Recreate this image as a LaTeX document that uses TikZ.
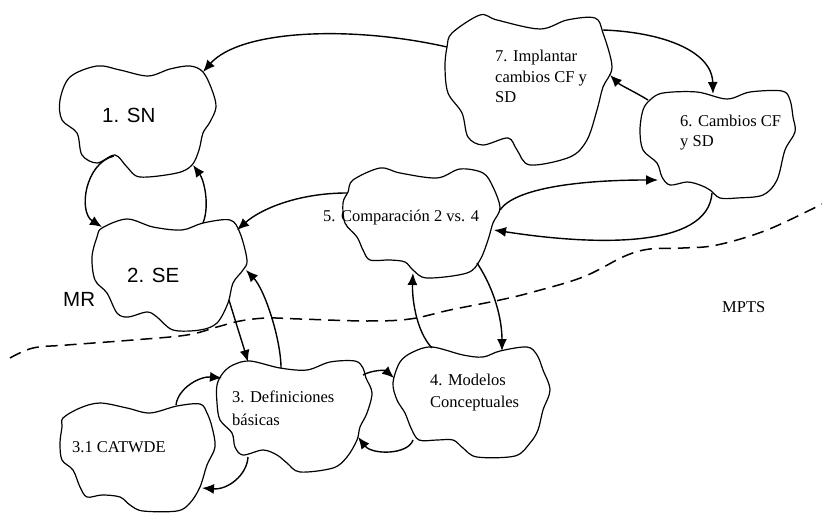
\documentclass[tikz,border=0pt]{standalone}
\usepackage{fontspec}
\setmainfont{Liberation Serif}
\newfontfamily\arialf{Liberation Sans}
\usetikzlibrary{arrows.meta}
\tikzset{
  cloudline/.style={line width=1.2pt, line join=round},
  conn/.style={line width=1.4pt, -{Latex[length=12pt,width=10pt]}},
  dashline/.style={line width=1.5pt, dash pattern=on 12pt off 7pt},
  sertxt/.style={font=\fontsize{16.5}{21}\selectfont, inner sep=0pt, anchor=base west, text=black},
  santxt/.style={font=\arialf\fontsize{20.5}{24}\selectfont, inner sep=0pt, anchor=base west}
}
\begin{document}
\begin{tikzpicture}[x=1pt,y=-1pt]
\useasboundingbox (0,0) rectangle (822,513);
% clouds
\draw[cloudline] plot[smooth cycle, tension=0.55] coordinates {(97,66) (120,70) (148,76) (170,69) (190,66) (203,72) (212,90) (216,107) (210,122) (203,133) (199,150) (192,165) (177,173) (140,177) (127,167) (115,155) (97,163) (82,155) (77,133) (62,120) (60,100) (70,77)};
\draw[cloudline] plot[smooth cycle, tension=0.55] coordinates {(102,228) (127,219) (153,227) (182,230) (203,223) (230,220) (240,233) (247,260) (243,270) (233,283) (228,303) (217,323) (200,330) (173,330) (157,317) (147,312) (128,317) (117,313) (107,293) (95,280) (92,257) (97,237)};
\draw[cloudline] plot[smooth cycle, tension=0.55] coordinates {(353,180) (380,168) (400,173) (437,178) (460,169) (483,173) (493,187) (500,208) (493,223) (488,240) (480,260) (467,273) (427,278) (413,270) (405,262) (390,260) (370,260) (363,250) (357,237) (345,223) (343,203) (348,192)};
\draw[cloudline] plot[smooth cycle, tension=0.55] coordinates {(452,33) (480,15) (497,20) (540,29) (567,20) (595,18) (603,33) (612,67) (603,87) (597,110) (587,140) (570,157) (530,165) (517,150) (508,138) (483,145) (468,137) (462,113) (448,93) (445,67) (447,47)};
\draw[cloudline] plot[smooth cycle, tension=0.55] coordinates {(650,100) (663,93) (697,92) (727,99) (750,92) (782,91) (790,100) (793,117) (795,132) (785,150) (777,180) (763,195) (737,198) (720,198) (710,190) (700,185) (687,182) (670,185) (662,177) (657,163) (643,150) (640,130) (643,110)};
\draw[cloudline] plot[smooth cycle, tension=0.55] coordinates {(400,362) (413,352) (432,347) (463,355) (483,357) (500,351) (527,347) (537,355) (543,370) (550,390) (543,410) (538,430) (530,443) (515,456) (477,457) (463,448) (453,440) (437,440) (419,440) (411,428) (405,413) (397,400) (393,383)};
\draw[cloudline] plot[smooth cycle, tension=0.55] coordinates {(223,373) (233,365) (250,361) (280,368) (307,370) (330,362) (355,361) (363,368) (366,378) (372,393) (367,413) (360,427) (357,440) (347,457) (333,468) (300,472) (287,463) (277,455) (263,450) (243,455) (235,447) (232,433) (220,420) (217,403) (217,385)};
\draw[cloudline] plot[smooth cycle, tension=0.55] coordinates {(63,418) (80,408) (100,403) (127,408) (150,413) (177,406) (200,404) (207,413) (212,427) (215,447) (207,465) (200,487) (190,503) (177,511) (143,511) (130,505) (120,497) (102,495) (87,497) (80,487) (73,470) (62,460) (60,443) (62,427)};
% texts
\node[santxt] (n1) at (102,123) {1. SN};
\node[santxt] (n2) at (127,283) {2. SE};
\node[santxt] (mr) at (63,306) {MR};
\node[sertxt] (n5) at (323,222) {5. Comparación 2 vs. 4};
\node[sertxt] (n7) at (495,62) {\vtop{\baselineskip=20.5pt\hbox{7. Implantar}\hbox{cambios CF y}\hbox{SD}}};
\node[sertxt] (n6) at (680,127) {\vtop{\baselineskip=20pt\hbox{6. Cambios CF}\hbox{y SD}}};
\node[sertxt] (n4) at (430,385) {\vtop{\baselineskip=22pt\hbox{4. Modelos}\hbox{Conceptuales}}};
\node[sertxt] (n3) at (232,402) {\vtop{\baselineskip=23pt\hbox{3. Definiciones}\hbox{básicas}}};
\node[sertxt] (n31) at (72,452) {3.1 CATWDE};
\node[sertxt] (mpts) at (722,312) {MPTS};
% boundary points
\coordinate (c7w) at (447,47);   \coordinate (c1ne) at (203,72);
\coordinate (c7ne) at (603,30);  \coordinate (c6n) at (713,94);
\coordinate (c6nw) at (648,100); \coordinate (c7e) at (610,75);
\coordinate (c5e) at (500,210);  \coordinate (c6sw) at (658,180);
\coordinate (c6s) at (712,193);  \coordinate (c5ee) at (494,230);
\coordinate (c5w) at (347,193);  \coordinate (c2ne) at (237,230);
\coordinate (c1sw) at (114,156); \coordinate (c2nw) at (102,227);
\coordinate (c2n) at (203,223);  \coordinate (c1se) at (193,165);
\coordinate (c2se) at (229,300); \coordinate (c3nw) at (248,362);
\coordinate (c3n) at (281,368);  \coordinate (c2e) at (246,270);
\coordinate (c31n) at (176,405); \coordinate (c3w) at (222,378);
\coordinate (c3s) at (248,457);  \coordinate (c31e) at (202,488);
\coordinate (c3e) at (363,375);  \coordinate (c4w) at (394,378);
\coordinate (c4sw) at (413,440); \coordinate (c3se) at (358,437);
\coordinate (c4nw) at (432,348); \coordinate (c5s) at (413,273);
\coordinate (c5se) at (477,263); \coordinate (c4n) at (502,351);
% connectors
\draw[conn] (c7w) .. controls (350,25) and (240,30) .. (c1ne);
\draw[conn] (c7ne) .. controls (660,32) and (712,50) .. (c6n);
\draw[conn] (c6nw) .. controls (635,92) and (620,85) .. (c7e);
\draw[conn] (c5e) .. controls (515,188) and (580,180) .. (c6sw);
\draw[conn] (c6s) .. controls (708,250) and (590,245) .. (c5ee);
\draw[conn] (c5w) .. controls (300,193) and (262,208) .. (c2ne);
\draw[conn] (c1sw) .. controls (85,163) and (78,212) .. (c2nw);
\draw[conn] (c2n) .. controls (210,205) and (204,180) .. (c1se);
\draw[conn] (c2se) .. controls (235,320) and (243,345) .. (c3nw);
\draw[conn] (c3n) .. controls (281,340) and (265,290) .. (c2e);
\draw[conn] (c31n) .. controls (178,388) and (200,376) .. (c3w);
\draw[conn] (c3s) .. controls (247,475) and (228,490) .. (c31e);
\draw[conn] (c3e) .. controls (372,370) and (385,370) .. (c4w);
\draw[conn] (c4sw) .. controls (408,455) and (372,455) .. (c3se);
\draw[conn] (c4nw) .. controls (415,330) and (412,295) .. (c5s);
\draw[conn] (c5se) .. controls (495,290) and (502,320) .. (c4n);
% boundary between MR and MPTS
\draw[dashline] plot[smooth, tension=0.6] coordinates {(10,358) (33,348) (67,345) (133,340) (187,335) (217,327) (240,321) (267,318) (300,319) (367,321) (410,319) (450,310) (500,300) (533,292) (583,277) (625,256) (650,249) (683,248) (717,245) (767,230) (822,204)};
\end{tikzpicture}
\end{document}
